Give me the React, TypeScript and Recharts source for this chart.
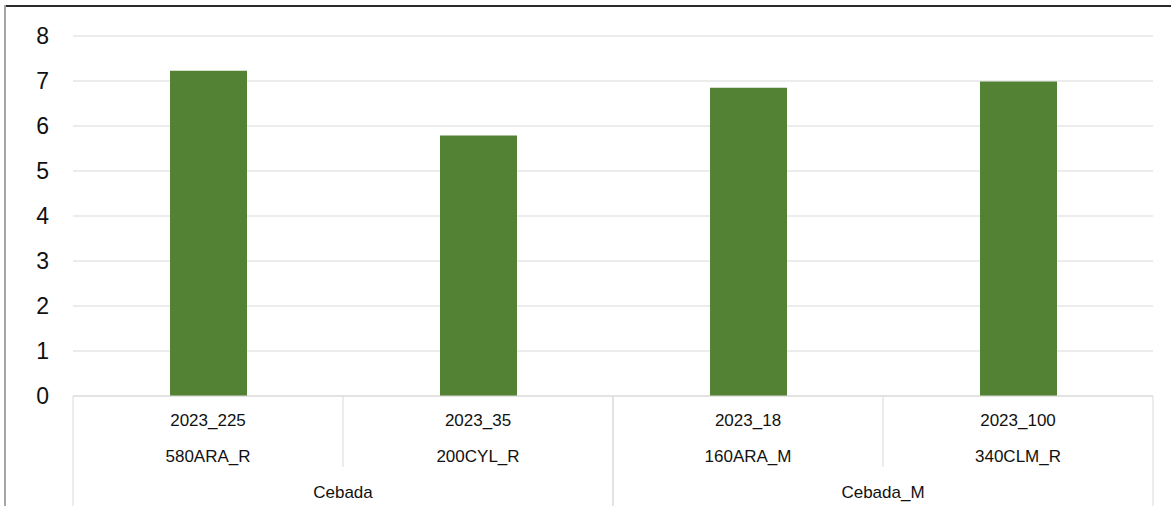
import { BarChart, Bar, XAxis, YAxis, CartesianGrid } from "recharts";

const years = ["2023_225", "2023_35", "2023_18", "2023_100"];
const sites = ["580ARA_R", "200CYL_R", "160ARA_M", "340CLM_R"];
const groups = ["Cebada", "Cebada", "Cebada_M", "Cebada_M"];
const values = [7.23, 5.79, 6.85, 6.99];
const yTicks = [0, 1, 2, 3, 4, 5, 6, 7, 8];

const data = years.map((year, i) => ({ key: `${i}`, year, site: sites[i], group: groups[i], value: values[i] }));

// layout of the plot area (px)
const W = 1171;
const H = 506;
const PLOT_LEFT = 73;
const PLOT_RIGHT = 1153;
const AXIS_Y = 396;
const BAND = (PLOT_RIGHT - PLOT_LEFT) / data.length;
const FONT = "'Liberation Sans', Arial, sans-serif";
const GRID = "#d9d9d9";

function CategoryTick(props: any) {
  const { x, payload } = props;
  const i = payload.index;
  const d = data[i];
  const left = x - BAND / 2;
  const right = x + BAND / 2;
  const groupStart = i === 0 || groups[i - 1] !== d.group;
  const groupEnd = i === data.length - 1 || groups[i + 1] !== d.group;
  let groupLabel = null;
  if (groupStart) {
    let n = 1;
    while (i + n < groups.length && groups[i + n] === d.group) n++;
    groupLabel = (
      <text x={left + (n * BAND) / 2} y={492} textAnchor="middle" dominantBaseline="central" fontSize={17} fontFamily={FONT} fill="#111">
        {d.group}
      </text>
    );
  }
  return (
    <g>
      <line x1={left} x2={left} y1={AXIS_Y} y2={groupStart ? H : 467} stroke={GRID} />
      {groupEnd && <line x1={right} x2={right} y1={AXIS_Y} y2={H} stroke={GRID} />}
      <text x={x} y={420.5} textAnchor="middle" dominantBaseline="central" fontSize={17} fontFamily={FONT} fill="#111">
        {d.year}
      </text>
      <text x={x} y={456} textAnchor="middle" dominantBaseline="central" fontSize={17} fontFamily={FONT} fill="#111">
        {d.site}
      </text>
      {groupLabel}
    </g>
  );
}

function ValueTick(props: any) {
  const { y, payload } = props;
  return (
    <text x={49} y={y} textAnchor="end" dominantBaseline="central" fontSize={23} fontFamily={FONT} fill="#111">
      {payload.value}
    </text>
  );
}

export default function App() {
  return (
    <div style={{ position: "absolute", top: 0, left: 0, width: W, height: H, background: "#fff", overflow: "hidden" }}>
      <div style={{ position: "absolute", top: 5, left: 4, right: 0, height: 2, background: "#2b2b2b" }} />
      <div style={{ position: "absolute", top: 5, left: 4, bottom: 0, width: 2, background: "#a6a6a6" }} />
      <BarChart width={W} height={H} data={data} margin={{ top: 36, right: W - PLOT_RIGHT, left: 0, bottom: 0 }} barSize={77}>
        <CartesianGrid vertical={false} stroke={GRID} />
        <XAxis
          dataKey="key"
          height={H - AXIS_Y}
          interval={0}
          tickLine={false}
          axisLine={{ stroke: GRID }}
          tick={<CategoryTick />}
        />
        <YAxis
          width={PLOT_LEFT}
          domain={[0, 8]}
          ticks={yTicks}
          axisLine={false}
          tickLine={false}
          tick={<ValueTick />}
        />
        <Bar dataKey="value" fill="#548235" isAnimationActive={false} />
      </BarChart>
    </div>
  );
}
